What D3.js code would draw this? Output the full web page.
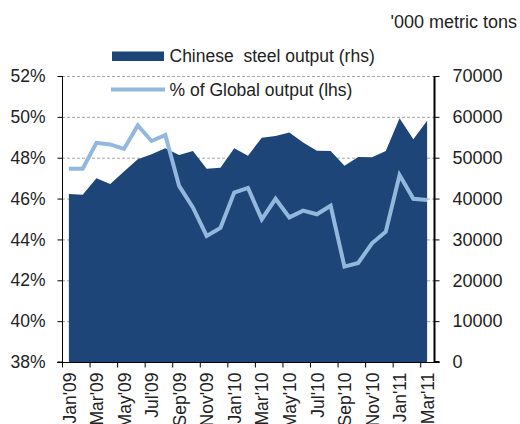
<!DOCTYPE html>
<html>
<head>
<meta charset="utf-8">
<script src="https://cdn.jsdelivr.net/npm/d3@7"></script>
<style>
  html, body { margin: 0; padding: 0; background: #fff; }
  svg { display: block; font-family: "Liberation Sans", Arial, sans-serif; }
</style>
</head>
<body>
<svg id="chart" width="520" height="424"></svg>
<script>
// Monthly series, Jan 2009 – Mar 2011
const months = ["Jan'09","Feb'09","Mar'09","Apr'09","May'09","Jun'09","Jul'09","Aug'09","Sep'09","Oct'09","Nov'09","Dec'09",
                "Jan'10","Feb'10","Mar'10","Apr'10","May'10","Jun'10","Jul'10","Aug'10","Sep'10","Oct'10","Nov'10","Dec'10",
                "Jan'11","Feb'11","Mar'11"];
// Chinese steel output, '000 metric tons (right axis)
const output = [41100, 40950, 44950, 43550, 46600, 49600, 50850, 52300, 50650, 51650, 47300, 47550,
                52300, 50500, 54900, 55300, 56200, 53750, 51700, 51650, 48050, 50150, 50100, 51650,
                59650, 54500, 59050];
// Share of global output, % (left axis)
const share = [47.46, 47.46, 48.73, 48.65, 48.43, 49.58, 48.82, 49.11, 46.62, 45.57, 44.17, 44.56,
               46.29, 46.52, 44.98, 45.99, 45.08, 45.41, 45.23, 45.65, 42.67, 42.85, 43.81, 44.38,
               47.15, 45.99, 45.93];
const leftTicks = [38, 40, 42, 44, 46, 48, 50, 52];
const rightTicks = [0, 10000, 20000, 30000, 40000, 50000, 60000, 70000];
const legendLabels = ["Chinese  steel output (rhs)", "% of Global output (lhs)"];
const unitLabel = "'000 metric tons";

const svg = d3.select("#chart");
const plot = { left: 62, right: 434, top: 76, bottom: 362 };
const FONT = 17.5;
const areaColor = "#1d4577";
const lineColor = "#92b8de";

// month index -> x; each month occupies one slot, points sit at slot centres
const x = d3.scaleLinear().domain([0, months.length]).range([plot.left, plot.right]);
const yL = d3.scaleLinear().domain([38, 52]).range([plot.bottom, plot.top]);
const yR = d3.scaleLinear().domain([0, 70000]).range([plot.bottom, plot.top]);

// dashed gridlines behind the data
svg.append("g").selectAll("line")
  .data(leftTicks.filter(t => t > 38))
  .join("line")
  .attr("x1", plot.left).attr("x2", plot.right)
  .attr("y1", d => yL(d) + 0.5).attr("y2", d => yL(d) + 0.5)
  .attr("stroke", "#a6a6a6").attr("stroke-width", 1)
  .attr("stroke-dasharray", "3,2");

// output area
const area = d3.area()
  .x((d, i) => x(i + 0.5))
  .y0(yR(0))
  .y1(d => yR(d));
svg.append("path").datum(output)
  .attr("d", area)
  .attr("fill", areaColor);

// share line
const line = d3.line()
  .x((d, i) => x(i + 0.5))
  .y(d => yL(d));
svg.append("path").datum(share)
  .attr("d", line)
  .attr("fill", "none")
  .attr("stroke", lineColor)
  .attr("stroke-width", 4)
  .attr("stroke-linejoin", "miter");

// left axis
const gL = svg.append("g").attr("transform", `translate(${plot.left + 0.5},0)`)
  .call(d3.axisLeft(yL).tickValues(leftTicks).tickSize(5).tickPadding(12)
    .tickFormat(d => d + "%"));
// right axis
const gR = svg.append("g").attr("transform", `translate(${plot.right + 0.5},0)`)
  .call(d3.axisRight(yR).tickValues(rightTicks).tickSize(5).tickPadding(13)
    .tickFormat(d3.format("d")));
// bottom axis: ticks at slot boundaries every two months
const gB = svg.append("g").attr("transform", `translate(0,${plot.bottom + 0.5})`)
  .call(d3.axisBottom(x).tickValues(d3.range(0, months.length, 2)).tickSize(5)
    .tickFormat(i => months[i]));

[gL, gR, gB].forEach(g => {
  g.select(".domain").attr("stroke", "#000");
  g.selectAll(".tick line").attr("stroke", "#000");
  g.selectAll("text").attr("font-size", FONT).attr("fill", "#222")
    .attr("font-family", "'Liberation Sans', Arial, sans-serif");
});
gR.selectAll("text").attr("font-size", 18);
gL.select(".domain").attr("d", `M-5,${plot.bottom}H0V${plot.top}`);
gR.select(".domain").attr("stroke-width", 2).attr("d", `M0,${plot.top}V${plot.bottom}H5`);
gB.select(".domain").attr("d", `M${plot.left - 5},0H${plot.right}`);

// rotated month labels centred on their slot
const half = (x(1) - x(0)) / 2;
gB.selectAll(".tick text")
  .attr("text-anchor", "end")
  .attr("transform", `translate(${half},10) rotate(-90)`)
  .attr("x", 0).attr("y", 0).attr("dy", "0.35em");

// legend
const lg = svg.append("g");
lg.append("rect").attr("x", 112).attr("y", 51.5).attr("width", 52).attr("height", 9.5).attr("fill", areaColor);
lg.append("line").attr("x1", 111).attr("x2", 165).attr("y1", 89.5).attr("y2", 89.5)
  .attr("stroke", lineColor).attr("stroke-width", 4);
lg.selectAll("text").data(legendLabels).join("text")
  .attr("x", 169.5).attr("y", (d, i) => i === 0 ? 62 : 95.5)
  .attr("font-size", FONT).attr("fill", "#222")
  .style("white-space", "pre")
  .text(d => d);

// unit label for the right axis
svg.append("text").attr("x", 517).attr("y", 28).attr("text-anchor", "end")
  .attr("font-size", 18).attr("fill", "#222").text(unitLabel);
</script>
</body>
</html>
